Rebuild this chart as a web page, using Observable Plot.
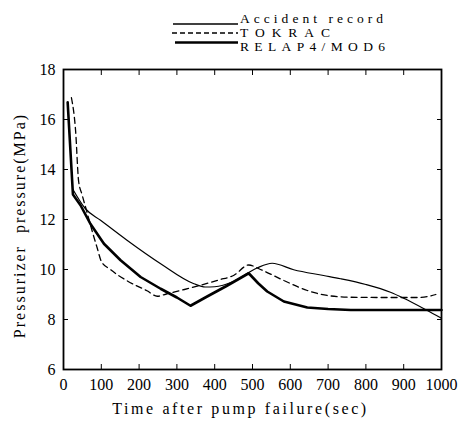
<!DOCTYPE html>
<html><head><meta charset="utf-8">
<script src="https://cdn.jsdelivr.net/npm/d3@7"></script>
<script src="https://cdn.jsdelivr.net/npm/@observablehq/plot@0.6"></script>
<style>
body{margin:0;background:#fff;}
#legend{display:block;width:471px;height:56px;}
#chart svg{display:block;}
</style></head><body>
<svg id="legend" width="471" height="56"></svg>
<div id="chart"></div>
<script>
// Series: Accident record (thin solid)
const accidentT = [25, 58, 98, 168, 257, 345, 375, 400, 451, 512, 552, 609, 688, 733, 800, 865, 900, 960, 1000];
const accidentP = [13.2, 12.43, 11.97, 11.17, 10.23, 9.43, 9.3, 9.31, 9.53, 10.06, 10.25, 9.99, 9.76, 9.63, 9.4, 9.09, 8.85, 8.38, 8.05];
// Series: TOKRAC (dashed)
const tokracT = [21, 32, 40, 49, 62, 76, 89, 100, 124, 168, 221, 248, 274, 320, 362, 410, 451, 490, 521, 583, 645, 698, 760, 850, 940, 965, 985];
const tokracP = [16.87, 15.55, 13.53, 13.0, 12.3, 11.53, 10.87, 10.33, 10.0, 9.55, 9.15, 8.93, 9.03, 9.2, 9.37, 9.58, 9.77, 10.18, 10.0, 9.56, 9.16, 8.96, 8.89, 8.88, 8.88, 8.92, 9.0];
// Series: RELAP4/MOD6 (thick solid)
const relapT = [11, 25, 45, 71, 107, 151, 204, 257, 300, 336, 380, 430, 490, 515, 539, 583, 645, 700, 760, 850, 1000];
const relapP = [16.69, 13.0, 12.57, 11.83, 11.03, 10.37, 9.7, 9.23, 8.88, 8.55, 8.92, 9.33, 9.85, 9.45, 9.12, 8.72, 8.48, 8.42, 8.38, 8.38, 8.38];

const seriesNames = ["Accident record", "TOKRAC", "RELAP4/MOD6"];
const xTicks = [0, 100, 200, 300, 400, 500, 600, 700, 800, 900, 1000];
const yTicks = [6, 8, 10, 12, 14, 16, 18];
const xInner = [100, 200, 300, 400, 500, 600, 700, 800, 900];
const yInner = [8, 10, 12, 14, 16];
const xLabel = "Time after pump failure(sec)";
const yLabel = "Pressurizer  pressure(MPa)";

const toRows = (T, P) => T.map((t, i) => ({t, p: P[i]}));
const accident = toRows(accidentT, accidentP);
const tokrac = toRows(tokracT, tokracP);
const relap = toRows(relapT, relapP);

const font = "'Liberation Serif', 'Times New Roman', Times, Tinos, 'DejaVu Serif', 'Noto Serif', FreeSerif, serif";

// Legend (HTML/SVG above the plot)
const lg = d3.select("#legend");
const legendItems = [
  {name: seriesNames[0], y: 24, ty: 23, x1: 173, sw: 1.3, dash: null, len: 143},
  {name: seriesNames[1], y: 33, ty: 37, x1: 172, sw: 1.3, dash: "5,3", len: 90},
  {name: seriesNames[2], y: 42.5, ty: 51, x1: 175, sw: 2.6, dash: null, len: 145}
];
for (const it of legendItems) {
  lg.append("line").attr("x1", it.x1).attr("x2", 238).attr("y1", it.y).attr("y2", it.y)
    .attr("stroke", "#000").attr("stroke-width", it.sw).attr("stroke-dasharray", it.dash);
  lg.append("text").attr("x", 240).attr("y", it.ty).style("font-family", font).style("font-size", "13.5px")
    .attr("textLength", it.len).attr("lengthAdjust", "spacing").text(it.name);
}

const blank = () => "";
const plot = Plot.plot({
  width: 471,
  height: 368,
  marginTop: 13,
  marginBottom: 55,
  marginLeft: 63,
  marginRight: 30,
  style: {fontFamily: font, fontSize: "16px", color: "#000", background: "#fff"},
  x: {domain: [0, 1000]},
  y: {domain: [6, 18]},
  marks: [
    Plot.axisX({anchor: "bottom", ticks: xTicks, tickSize: 0, tickPadding: 9, tickFormat: d => String(d), label: null}),
    Plot.axisX({anchor: "bottom", ticks: xInner, tickSize: -5, tickFormat: blank, label: null}),
    Plot.axisX({anchor: "top", ticks: xInner, tickSize: -5, tickFormat: blank, label: null}),
    Plot.axisY({anchor: "left", ticks: yTicks, tickSize: 0, tickPadding: 8, tickFormat: d => String(d), label: null}),
    Plot.axisY({anchor: "left", ticks: yInner, tickSize: -5, tickFormat: blank, label: null}),
    Plot.axisY({anchor: "right", ticks: yInner, tickSize: -5, tickFormat: blank, label: null}),
    Plot.frame({stroke: "#000", strokeWidth: 1.8}),
    Plot.line(accident, {x: "t", y: "p", stroke: "#000", strokeWidth: 1.2, curve: "monotone-x"}),
    Plot.line(tokrac, {x: "t", y: "p", stroke: "#000", strokeWidth: 1.3, strokeDasharray: "6,4", curve: "monotone-x"}),
    Plot.line(relap, {x: "t", y: "p", stroke: "#000", strokeWidth: 2.6, curve: "linear"}),
    Plot.text([xLabel], {text: d => d, frameAnchor: "bottom", textAnchor: "middle", dx: -12, dy: 39, lineAnchor: "middle", fontSize: 16}),
    Plot.text([yLabel], {text: d => d, frameAnchor: "left", textAnchor: "middle", dx: -44, dy: 6, rotate: -90, lineAnchor: "middle", fontSize: 16})
  ]
});
document.getElementById("chart").appendChild(plot);
d3.select(plot).selectAll("text").each(function() {
  const s = this.textContent;
  if (s === xLabel) d3.select(this).style("letter-spacing", "2.6px");
  if (s === yLabel) d3.select(this).style("letter-spacing", "2px");
});
</script>
</body></html>
